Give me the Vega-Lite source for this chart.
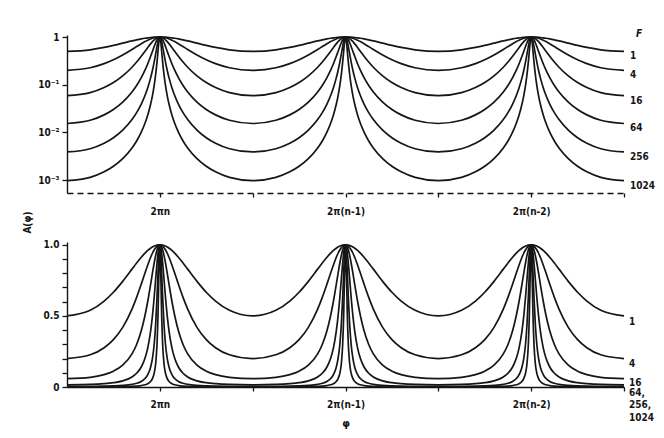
{
  "$schema": "https://vega.github.io/schema/vega-lite/v6.json",
  "background": "white",
  "padding": {"left": 22, "top": 29, "right": 5, "bottom": 5},
  "bounds": "flush",
  "spacing": 49,
  "config": {
    "font": "DejaVu Sans Condensed, DejaVu Sans, sans-serif",
    "view": {"stroke": null},
    "axis": {
      "grid": false,
      "domainColor": "#141414",
      "tickColor": "#141414",
      "labelColor": "#141414",
      "titleColor": "#141414",
      "labelFont": "DejaVu Sans Condensed, DejaVu Sans, sans-serif",
      "titleFont": "DejaVu Sans Condensed, DejaVu Sans, sans-serif",
      "labelFontWeight": "bold",
      "labelFontSize": 10,
      "labelOverlap": false,
      "domainWidth": 1.4,
      "tickWidth": 1.3
    }
  },
  "datasets": {
    "curves": [
      {"phi":-1,"F":"1","A":0.5},{"phi":-0.75,"F":"1","A":0.5395},{"phi":-0.6,"F":"1","A":0.60441},{"phi":-0.5,"F":"1","A":0.66667},{"phi":-0.4,"F":"1","A":0.74322},{"phi":-0.3,"F":"1","A":0.82911},{"phi":-0.25,"F":"1","A":0.87226},{"phi":-0.2,"F":"1","A":0.91283},{"phi":-0.16,"F":"1","A":0.94176},{"phi":-0.13,"F":"1","A":0.9605},{"phi":-0.1,"F":"1","A":0.97611},{"phi":-0.08,"F":"1","A":0.98454},{"phi":-0.06,"F":"1","A":0.99122},{"phi":0,"F":"1","A":1},
      {"phi":0.06,"F":"1","A":0.99122},{"phi":0.08,"F":"1","A":0.98454},{"phi":0.1,"F":"1","A":0.97611},{"phi":0.13,"F":"1","A":0.9605},{"phi":0.16,"F":"1","A":0.94176},{"phi":0.2,"F":"1","A":0.91283},{"phi":0.25,"F":"1","A":0.87226},{"phi":0.3,"F":"1","A":0.82911},{"phi":0.4,"F":"1","A":0.74322},{"phi":0.5,"F":"1","A":0.66667},{"phi":0.6,"F":"1","A":0.60441},{"phi":0.75,"F":"1","A":0.5395},{"phi":1,"F":"1","A":0.5},
      {"phi":1.25,"F":"1","A":0.5395},{"phi":1.4,"F":"1","A":0.60441},{"phi":1.5,"F":"1","A":0.66667},{"phi":1.6,"F":"1","A":0.74322},{"phi":1.7,"F":"1","A":0.82911},{"phi":1.75,"F":"1","A":0.87226},{"phi":1.8,"F":"1","A":0.91283},{"phi":1.84,"F":"1","A":0.94176},{"phi":1.87,"F":"1","A":0.9605},{"phi":1.9,"F":"1","A":0.97611},{"phi":1.92,"F":"1","A":0.98454},{"phi":1.94,"F":"1","A":0.99122},{"phi":2,"F":"1","A":1},
      {"phi":2.06,"F":"1","A":0.99122},{"phi":2.08,"F":"1","A":0.98454},{"phi":2.1,"F":"1","A":0.97611},{"phi":2.13,"F":"1","A":0.9605},{"phi":2.16,"F":"1","A":0.94176},{"phi":2.2,"F":"1","A":0.91283},{"phi":2.25,"F":"1","A":0.87226},{"phi":2.3,"F":"1","A":0.82911},{"phi":2.4,"F":"1","A":0.74322},{"phi":2.5,"F":"1","A":0.66667},{"phi":2.6,"F":"1","A":0.60441},{"phi":2.75,"F":"1","A":0.5395},{"phi":3,"F":"1","A":0.5},
      {"phi":3.25,"F":"1","A":0.5395},{"phi":3.4,"F":"1","A":0.60441},{"phi":3.5,"F":"1","A":0.66667},{"phi":3.6,"F":"1","A":0.74322},{"phi":3.7,"F":"1","A":0.82911},{"phi":3.75,"F":"1","A":0.87226},{"phi":3.8,"F":"1","A":0.91283},{"phi":3.84,"F":"1","A":0.94176},{"phi":3.87,"F":"1","A":0.9605},{"phi":3.9,"F":"1","A":0.97611},{"phi":3.92,"F":"1","A":0.98454},{"phi":3.94,"F":"1","A":0.99122},{"phi":4,"F":"1","A":1},
      {"phi":4.06,"F":"1","A":0.99122},{"phi":4.08,"F":"1","A":0.98454},{"phi":4.1,"F":"1","A":0.97611},{"phi":4.13,"F":"1","A":0.9605},{"phi":4.16,"F":"1","A":0.94176},{"phi":4.2,"F":"1","A":0.91283},{"phi":4.25,"F":"1","A":0.87226},{"phi":4.3,"F":"1","A":0.82911},{"phi":4.4,"F":"1","A":0.74322},{"phi":4.5,"F":"1","A":0.66667},{"phi":4.6,"F":"1","A":0.60441},{"phi":4.75,"F":"1","A":0.5395},{"phi":5,"F":"1","A":0.5},

      {"phi":-1,"F":"4","A":0.2},{"phi":-0.75,"F":"4","A":0.22654},{"phi":-0.6,"F":"4","A":0.27639},{"phi":-0.5,"F":"4","A":0.33333},{"phi":-0.4,"F":"4","A":0.41982},{"phi":-0.3,"F":"4","A":0.54812},{"phi":-0.25,"F":"4","A":0.6306},{"phi":-0.2,"F":"4","A":0.72361},{"phi":-0.16,"F":"4","A":0.80167},{"phi":-0.13,"F":"4","A":0.85874},{"phi":-0.1,"F":"4","A":0.91084},{"phi":-0.08,"F":"4","A":0.94088},{"phi":-0.06,"F":"4","A":0.96579},{"phi":0,"F":"4","A":1},
      {"phi":0.06,"F":"4","A":0.96579},{"phi":0.08,"F":"4","A":0.94088},{"phi":0.1,"F":"4","A":0.91084},{"phi":0.13,"F":"4","A":0.85874},{"phi":0.16,"F":"4","A":0.80167},{"phi":0.2,"F":"4","A":0.72361},{"phi":0.25,"F":"4","A":0.6306},{"phi":0.3,"F":"4","A":0.54812},{"phi":0.4,"F":"4","A":0.41982},{"phi":0.5,"F":"4","A":0.33333},{"phi":0.6,"F":"4","A":0.27639},{"phi":0.75,"F":"4","A":0.22654},{"phi":1,"F":"4","A":0.2},
      {"phi":1.25,"F":"4","A":0.22654},{"phi":1.4,"F":"4","A":0.27639},{"phi":1.5,"F":"4","A":0.33333},{"phi":1.6,"F":"4","A":0.41982},{"phi":1.7,"F":"4","A":0.54812},{"phi":1.75,"F":"4","A":0.6306},{"phi":1.8,"F":"4","A":0.72361},{"phi":1.84,"F":"4","A":0.80167},{"phi":1.87,"F":"4","A":0.85874},{"phi":1.9,"F":"4","A":0.91084},{"phi":1.92,"F":"4","A":0.94088},{"phi":1.94,"F":"4","A":0.96579},{"phi":2,"F":"4","A":1},
      {"phi":2.06,"F":"4","A":0.96579},{"phi":2.08,"F":"4","A":0.94088},{"phi":2.1,"F":"4","A":0.91084},{"phi":2.13,"F":"4","A":0.85874},{"phi":2.16,"F":"4","A":0.80167},{"phi":2.2,"F":"4","A":0.72361},{"phi":2.25,"F":"4","A":0.6306},{"phi":2.3,"F":"4","A":0.54812},{"phi":2.4,"F":"4","A":0.41982},{"phi":2.5,"F":"4","A":0.33333},{"phi":2.6,"F":"4","A":0.27639},{"phi":2.75,"F":"4","A":0.22654},{"phi":3,"F":"4","A":0.2},
      {"phi":3.25,"F":"4","A":0.22654},{"phi":3.4,"F":"4","A":0.27639},{"phi":3.5,"F":"4","A":0.33333},{"phi":3.6,"F":"4","A":0.41982},{"phi":3.7,"F":"4","A":0.54812},{"phi":3.75,"F":"4","A":0.6306},{"phi":3.8,"F":"4","A":0.72361},{"phi":3.84,"F":"4","A":0.80167},{"phi":3.87,"F":"4","A":0.85874},{"phi":3.9,"F":"4","A":0.91084},{"phi":3.92,"F":"4","A":0.94088},{"phi":3.94,"F":"4","A":0.96579},{"phi":4,"F":"4","A":1},
      {"phi":4.06,"F":"4","A":0.96579},{"phi":4.08,"F":"4","A":0.94088},{"phi":4.1,"F":"4","A":0.91084},{"phi":4.13,"F":"4","A":0.85874},{"phi":4.16,"F":"4","A":0.80167},{"phi":4.2,"F":"4","A":0.72361},{"phi":4.25,"F":"4","A":0.6306},{"phi":4.3,"F":"4","A":0.54812},{"phi":4.4,"F":"4","A":0.41982},{"phi":4.5,"F":"4","A":0.33333},{"phi":4.6,"F":"4","A":0.27639},{"phi":4.75,"F":"4","A":0.22654},{"phi":5,"F":"4","A":0.2},

      {"phi":-1,"F":"16","A":0.05882},{"phi":-0.75,"F":"16","A":0.06823},{"phi":-0.6,"F":"16","A":0.08717},{"phi":-0.5,"F":"16","A":0.11111},{"phi":-0.4,"F":"16","A":0.15319},{"phi":-0.3,"F":"16","A":0.23269},{"phi":-0.25,"F":"16","A":0.29912},{"phi":-0.2,"F":"16","A":0.39559},{"phi":-0.16,"F":"16","A":0.50262},{"phi":-0.13,"F":"16","A":0.60315},{"phi":-0.1,"F":"16","A":0.71862},{"phi":-0.08,"F":"16","A":0.79915},{"phi":-0.06,"F":"16","A":0.87589},{"phi":-0.045,"F":"16","A":0.92609},{"phi":-0.03,"F":"16","A":0.96571},{"phi":-0.02,"F":"16","A":0.98446},{"phi":-0.01,"F":"16","A":0.99607},{"phi":0,"F":"16","A":1},
      {"phi":0.01,"F":"16","A":0.99607},{"phi":0.02,"F":"16","A":0.98446},{"phi":0.03,"F":"16","A":0.96571},{"phi":0.045,"F":"16","A":0.92609},{"phi":0.06,"F":"16","A":0.87589},{"phi":0.08,"F":"16","A":0.79915},{"phi":0.1,"F":"16","A":0.71862},{"phi":0.13,"F":"16","A":0.60315},{"phi":0.16,"F":"16","A":0.50262},{"phi":0.2,"F":"16","A":0.39559},{"phi":0.25,"F":"16","A":0.29912},{"phi":0.3,"F":"16","A":0.23269},{"phi":0.4,"F":"16","A":0.15319},{"phi":0.5,"F":"16","A":0.11111},{"phi":0.6,"F":"16","A":0.08717},{"phi":0.75,"F":"16","A":0.06823},{"phi":1,"F":"16","A":0.05882},
      {"phi":1.25,"F":"16","A":0.06823},{"phi":1.4,"F":"16","A":0.08717},{"phi":1.5,"F":"16","A":0.11111},{"phi":1.6,"F":"16","A":0.15319},{"phi":1.7,"F":"16","A":0.23269},{"phi":1.75,"F":"16","A":0.29912},{"phi":1.8,"F":"16","A":0.39559},{"phi":1.84,"F":"16","A":0.50262},{"phi":1.87,"F":"16","A":0.60315},{"phi":1.9,"F":"16","A":0.71862},{"phi":1.92,"F":"16","A":0.79915},{"phi":1.94,"F":"16","A":0.87589},{"phi":1.955,"F":"16","A":0.92609},{"phi":1.97,"F":"16","A":0.96571},{"phi":1.98,"F":"16","A":0.98446},{"phi":1.99,"F":"16","A":0.99607},{"phi":2,"F":"16","A":1},
      {"phi":2.01,"F":"16","A":0.99607},{"phi":2.02,"F":"16","A":0.98446},{"phi":2.03,"F":"16","A":0.96571},{"phi":2.045,"F":"16","A":0.92609},{"phi":2.06,"F":"16","A":0.87589},{"phi":2.08,"F":"16","A":0.79915},{"phi":2.1,"F":"16","A":0.71862},{"phi":2.13,"F":"16","A":0.60315},{"phi":2.16,"F":"16","A":0.50262},{"phi":2.2,"F":"16","A":0.39559},{"phi":2.25,"F":"16","A":0.29912},{"phi":2.3,"F":"16","A":0.23269},{"phi":2.4,"F":"16","A":0.15319},{"phi":2.5,"F":"16","A":0.11111},{"phi":2.6,"F":"16","A":0.08717},{"phi":2.75,"F":"16","A":0.06823},{"phi":3,"F":"16","A":0.05882},
      {"phi":3.25,"F":"16","A":0.06823},{"phi":3.4,"F":"16","A":0.08717},{"phi":3.5,"F":"16","A":0.11111},{"phi":3.6,"F":"16","A":0.15319},{"phi":3.7,"F":"16","A":0.23269},{"phi":3.75,"F":"16","A":0.29912},{"phi":3.8,"F":"16","A":0.39559},{"phi":3.84,"F":"16","A":0.50262},{"phi":3.87,"F":"16","A":0.60315},{"phi":3.9,"F":"16","A":0.71862},{"phi":3.92,"F":"16","A":0.79915},{"phi":3.94,"F":"16","A":0.87589},{"phi":3.955,"F":"16","A":0.92609},{"phi":3.97,"F":"16","A":0.96571},{"phi":3.98,"F":"16","A":0.98446},{"phi":3.99,"F":"16","A":0.99607},{"phi":4,"F":"16","A":1},
      {"phi":4.01,"F":"16","A":0.99607},{"phi":4.02,"F":"16","A":0.98446},{"phi":4.03,"F":"16","A":0.96571},{"phi":4.045,"F":"16","A":0.92609},{"phi":4.06,"F":"16","A":0.87589},{"phi":4.08,"F":"16","A":0.79915},{"phi":4.1,"F":"16","A":0.71862},{"phi":4.13,"F":"16","A":0.60315},{"phi":4.16,"F":"16","A":0.50262},{"phi":4.2,"F":"16","A":0.39559},{"phi":4.25,"F":"16","A":0.29912},{"phi":4.3,"F":"16","A":0.23269},{"phi":4.4,"F":"16","A":0.15319},{"phi":4.5,"F":"16","A":0.11111},{"phi":4.6,"F":"16","A":0.08717},{"phi":4.75,"F":"16","A":0.06823},{"phi":5,"F":"16","A":0.05882},

      {"phi":-1,"F":"64","A":0.01538},{"phi":-0.75,"F":"64","A":0.01798},{"phi":-0.6,"F":"64","A":0.02332},{"phi":-0.5,"F":"64","A":0.0303},{"phi":-0.4,"F":"64","A":0.04327},{"phi":-0.3,"F":"64","A":0.07047},{"phi":-0.25,"F":"64","A":0.09641},{"phi":-0.2,"F":"64","A":0.14062},{"phi":-0.16,"F":"64","A":0.20169},{"phi":-0.13,"F":"64","A":0.27534},{"phi":-0.1,"F":"64","A":0.38968},{"phi":-0.08,"F":"64","A":0.49868},{"phi":-0.06,"F":"64","A":0.63824},{"phi":-0.045,"F":"64","A":0.75801},{"phi":-0.03,"F":"64","A":0.87564},{"phi":-0.02,"F":"64","A":0.94061},{"phi":-0.01,"F":"64","A":0.98446},{"phi":0,"F":"64","A":1},
      {"phi":0.01,"F":"64","A":0.98446},{"phi":0.02,"F":"64","A":0.94061},{"phi":0.03,"F":"64","A":0.87564},{"phi":0.045,"F":"64","A":0.75801},{"phi":0.06,"F":"64","A":0.63824},{"phi":0.08,"F":"64","A":0.49868},{"phi":0.1,"F":"64","A":0.38968},{"phi":0.13,"F":"64","A":0.27534},{"phi":0.16,"F":"64","A":0.20169},{"phi":0.2,"F":"64","A":0.14062},{"phi":0.25,"F":"64","A":0.09641},{"phi":0.3,"F":"64","A":0.07047},{"phi":0.4,"F":"64","A":0.04327},{"phi":0.5,"F":"64","A":0.0303},{"phi":0.6,"F":"64","A":0.02332},{"phi":0.75,"F":"64","A":0.01798},{"phi":1,"F":"64","A":0.01538},
      {"phi":1.25,"F":"64","A":0.01798},{"phi":1.4,"F":"64","A":0.02332},{"phi":1.5,"F":"64","A":0.0303},{"phi":1.6,"F":"64","A":0.04327},{"phi":1.7,"F":"64","A":0.07047},{"phi":1.75,"F":"64","A":0.09641},{"phi":1.8,"F":"64","A":0.14062},{"phi":1.84,"F":"64","A":0.20169},{"phi":1.87,"F":"64","A":0.27534},{"phi":1.9,"F":"64","A":0.38968},{"phi":1.92,"F":"64","A":0.49868},{"phi":1.94,"F":"64","A":0.63824},{"phi":1.955,"F":"64","A":0.75801},{"phi":1.97,"F":"64","A":0.87564},{"phi":1.98,"F":"64","A":0.94061},{"phi":1.99,"F":"64","A":0.98446},{"phi":2,"F":"64","A":1},
      {"phi":2.01,"F":"64","A":0.98446},{"phi":2.02,"F":"64","A":0.94061},{"phi":2.03,"F":"64","A":0.87564},{"phi":2.045,"F":"64","A":0.75801},{"phi":2.06,"F":"64","A":0.63824},{"phi":2.08,"F":"64","A":0.49868},{"phi":2.1,"F":"64","A":0.38968},{"phi":2.13,"F":"64","A":0.27534},{"phi":2.16,"F":"64","A":0.20169},{"phi":2.2,"F":"64","A":0.14062},{"phi":2.25,"F":"64","A":0.09641},{"phi":2.3,"F":"64","A":0.07047},{"phi":2.4,"F":"64","A":0.04327},{"phi":2.5,"F":"64","A":0.0303},{"phi":2.6,"F":"64","A":0.02332},{"phi":2.75,"F":"64","A":0.01798},{"phi":3,"F":"64","A":0.01538},
      {"phi":3.25,"F":"64","A":0.01798},{"phi":3.4,"F":"64","A":0.02332},{"phi":3.5,"F":"64","A":0.0303},{"phi":3.6,"F":"64","A":0.04327},{"phi":3.7,"F":"64","A":0.07047},{"phi":3.75,"F":"64","A":0.09641},{"phi":3.8,"F":"64","A":0.14062},{"phi":3.84,"F":"64","A":0.20169},{"phi":3.87,"F":"64","A":0.27534},{"phi":3.9,"F":"64","A":0.38968},{"phi":3.92,"F":"64","A":0.49868},{"phi":3.94,"F":"64","A":0.63824},{"phi":3.955,"F":"64","A":0.75801},{"phi":3.97,"F":"64","A":0.87564},{"phi":3.98,"F":"64","A":0.94061},{"phi":3.99,"F":"64","A":0.98446},{"phi":4,"F":"64","A":1},
      {"phi":4.01,"F":"64","A":0.98446},{"phi":4.02,"F":"64","A":0.94061},{"phi":4.03,"F":"64","A":0.87564},{"phi":4.045,"F":"64","A":0.75801},{"phi":4.06,"F":"64","A":0.63824},{"phi":4.08,"F":"64","A":0.49868},{"phi":4.1,"F":"64","A":0.38968},{"phi":4.13,"F":"64","A":0.27534},{"phi":4.16,"F":"64","A":0.20169},{"phi":4.2,"F":"64","A":0.14062},{"phi":4.25,"F":"64","A":0.09641},{"phi":4.3,"F":"64","A":0.07047},{"phi":4.4,"F":"64","A":0.04327},{"phi":4.5,"F":"64","A":0.0303},{"phi":4.6,"F":"64","A":0.02332},{"phi":4.75,"F":"64","A":0.01798},{"phi":5,"F":"64","A":0.01538},

      {"phi":-1,"F":"256","A":0.003891},{"phi":-0.75,"F":"256","A":0.004556},{"phi":-0.6,"F":"256","A":0.005933},{"phi":-0.5,"F":"256","A":0.007752},{"phi":-0.4,"F":"256","A":0.01118},{"phi":-0.3,"F":"256","A":0.0186},{"phi":-0.25,"F":"256","A":0.02598},{"phi":-0.2,"F":"256","A":0.0393},{"phi":-0.16,"F":"256","A":0.05941},{"phi":-0.13,"F":"256","A":0.08675},{"phi":-0.1,"F":"256","A":0.13765},{"phi":-0.08,"F":"256","A":0.19915},{"phi":-0.06,"F":"256","A":0.30607},{"phi":-0.045,"F":"256","A":0.43918},{"phi":-0.03,"F":"256","A":0.63773},{"phi":-0.02,"F":"256","A":0.79835},{"phi":-0.01,"F":"256","A":0.94059},{"phi":0,"F":"256","A":1},
      {"phi":0.01,"F":"256","A":0.94059},{"phi":0.02,"F":"256","A":0.79835},{"phi":0.03,"F":"256","A":0.63773},{"phi":0.045,"F":"256","A":0.43918},{"phi":0.06,"F":"256","A":0.30607},{"phi":0.08,"F":"256","A":0.19915},{"phi":0.1,"F":"256","A":0.13765},{"phi":0.13,"F":"256","A":0.08675},{"phi":0.16,"F":"256","A":0.05941},{"phi":0.2,"F":"256","A":0.0393},{"phi":0.25,"F":"256","A":0.02598},{"phi":0.3,"F":"256","A":0.0186},{"phi":0.4,"F":"256","A":0.01118},{"phi":0.5,"F":"256","A":0.007752},{"phi":0.6,"F":"256","A":0.005933},{"phi":0.75,"F":"256","A":0.004556},{"phi":1,"F":"256","A":0.003891},
      {"phi":1.25,"F":"256","A":0.004556},{"phi":1.4,"F":"256","A":0.005933},{"phi":1.5,"F":"256","A":0.007752},{"phi":1.6,"F":"256","A":0.01118},{"phi":1.7,"F":"256","A":0.0186},{"phi":1.75,"F":"256","A":0.02598},{"phi":1.8,"F":"256","A":0.0393},{"phi":1.84,"F":"256","A":0.05941},{"phi":1.87,"F":"256","A":0.08675},{"phi":1.9,"F":"256","A":0.13765},{"phi":1.92,"F":"256","A":0.19915},{"phi":1.94,"F":"256","A":0.30607},{"phi":1.955,"F":"256","A":0.43918},{"phi":1.97,"F":"256","A":0.63773},{"phi":1.98,"F":"256","A":0.79835},{"phi":1.99,"F":"256","A":0.94059},{"phi":2,"F":"256","A":1},
      {"phi":2.01,"F":"256","A":0.94059},{"phi":2.02,"F":"256","A":0.79835},{"phi":2.03,"F":"256","A":0.63773},{"phi":2.045,"F":"256","A":0.43918},{"phi":2.06,"F":"256","A":0.30607},{"phi":2.08,"F":"256","A":0.19915},{"phi":2.1,"F":"256","A":0.13765},{"phi":2.13,"F":"256","A":0.08675},{"phi":2.16,"F":"256","A":0.05941},{"phi":2.2,"F":"256","A":0.0393},{"phi":2.25,"F":"256","A":0.02598},{"phi":2.3,"F":"256","A":0.0186},{"phi":2.4,"F":"256","A":0.01118},{"phi":2.5,"F":"256","A":0.007752},{"phi":2.6,"F":"256","A":0.005933},{"phi":2.75,"F":"256","A":0.004556},{"phi":3,"F":"256","A":0.003891},
      {"phi":3.25,"F":"256","A":0.004556},{"phi":3.4,"F":"256","A":0.005933},{"phi":3.5,"F":"256","A":0.007752},{"phi":3.6,"F":"256","A":0.01118},{"phi":3.7,"F":"256","A":0.0186},{"phi":3.75,"F":"256","A":0.02598},{"phi":3.8,"F":"256","A":0.0393},{"phi":3.84,"F":"256","A":0.05941},{"phi":3.87,"F":"256","A":0.08675},{"phi":3.9,"F":"256","A":0.13765},{"phi":3.92,"F":"256","A":0.19915},{"phi":3.94,"F":"256","A":0.30607},{"phi":3.955,"F":"256","A":0.43918},{"phi":3.97,"F":"256","A":0.63773},{"phi":3.98,"F":"256","A":0.79835},{"phi":3.99,"F":"256","A":0.94059},{"phi":4,"F":"256","A":1},
      {"phi":4.01,"F":"256","A":0.94059},{"phi":4.02,"F":"256","A":0.79835},{"phi":4.03,"F":"256","A":0.63773},{"phi":4.045,"F":"256","A":0.43918},{"phi":4.06,"F":"256","A":0.30607},{"phi":4.08,"F":"256","A":0.19915},{"phi":4.1,"F":"256","A":0.13765},{"phi":4.13,"F":"256","A":0.08675},{"phi":4.16,"F":"256","A":0.05941},{"phi":4.2,"F":"256","A":0.0393},{"phi":4.25,"F":"256","A":0.02598},{"phi":4.3,"F":"256","A":0.0186},{"phi":4.4,"F":"256","A":0.01118},{"phi":4.5,"F":"256","A":0.007752},{"phi":4.6,"F":"256","A":0.005933},{"phi":4.75,"F":"256","A":0.004556},{"phi":5,"F":"256","A":0.003891},

      {"phi":-1,"F":"1024","A":0.000976},{"phi":-0.75,"F":"1024","A":0.001143},{"phi":-0.6,"F":"1024","A":0.00149},{"phi":-0.5,"F":"1024","A":0.001949},{"phi":-0.4,"F":"1024","A":0.002819},{"phi":-0.3,"F":"1024","A":0.004716},{"phi":-0.25,"F":"1024","A":0.006624},{"phi":-0.2,"F":"1024","A":0.01012},{"phi":-0.16,"F":"1024","A":0.01554},{"phi":-0.13,"F":"1024","A":0.0232},{"phi":-0.1,"F":"1024","A":0.03837},{"phi":-0.08,"F":"1024","A":0.05853},{"phi":-0.06,"F":"1024","A":0.09932},{"phi":-0.045,"F":"1024","A":0.16372},{"phi":-0.03,"F":"1024","A":0.3056},{"phi":-0.02,"F":"1024","A":0.49743},{"phi":-0.01,"F":"1024","A":0.79832},{"phi":0,"F":"1024","A":1},
      {"phi":0.01,"F":"1024","A":0.79832},{"phi":0.02,"F":"1024","A":0.49743},{"phi":0.03,"F":"1024","A":0.3056},{"phi":0.045,"F":"1024","A":0.16372},{"phi":0.06,"F":"1024","A":0.09932},{"phi":0.08,"F":"1024","A":0.05853},{"phi":0.1,"F":"1024","A":0.03837},{"phi":0.13,"F":"1024","A":0.0232},{"phi":0.16,"F":"1024","A":0.01554},{"phi":0.2,"F":"1024","A":0.01012},{"phi":0.25,"F":"1024","A":0.006624},{"phi":0.3,"F":"1024","A":0.004716},{"phi":0.4,"F":"1024","A":0.002819},{"phi":0.5,"F":"1024","A":0.001949},{"phi":0.6,"F":"1024","A":0.00149},{"phi":0.75,"F":"1024","A":0.001143},{"phi":1,"F":"1024","A":0.000976},
      {"phi":1.25,"F":"1024","A":0.001143},{"phi":1.4,"F":"1024","A":0.00149},{"phi":1.5,"F":"1024","A":0.001949},{"phi":1.6,"F":"1024","A":0.002819},{"phi":1.7,"F":"1024","A":0.004716},{"phi":1.75,"F":"1024","A":0.006624},{"phi":1.8,"F":"1024","A":0.01012},{"phi":1.84,"F":"1024","A":0.01554},{"phi":1.87,"F":"1024","A":0.0232},{"phi":1.9,"F":"1024","A":0.03837},{"phi":1.92,"F":"1024","A":0.05853},{"phi":1.94,"F":"1024","A":0.09932},{"phi":1.955,"F":"1024","A":0.16372},{"phi":1.97,"F":"1024","A":0.3056},{"phi":1.98,"F":"1024","A":0.49743},{"phi":1.99,"F":"1024","A":0.79832},{"phi":2,"F":"1024","A":1},
      {"phi":2.01,"F":"1024","A":0.79832},{"phi":2.02,"F":"1024","A":0.49743},{"phi":2.03,"F":"1024","A":0.3056},{"phi":2.045,"F":"1024","A":0.16372},{"phi":2.06,"F":"1024","A":0.09932},{"phi":2.08,"F":"1024","A":0.05853},{"phi":2.1,"F":"1024","A":0.03837},{"phi":2.13,"F":"1024","A":0.0232},{"phi":2.16,"F":"1024","A":0.01554},{"phi":2.2,"F":"1024","A":0.01012},{"phi":2.25,"F":"1024","A":0.006624},{"phi":2.3,"F":"1024","A":0.004716},{"phi":2.4,"F":"1024","A":0.002819},{"phi":2.5,"F":"1024","A":0.001949},{"phi":2.6,"F":"1024","A":0.00149},{"phi":2.75,"F":"1024","A":0.001143},{"phi":3,"F":"1024","A":0.000976},
      {"phi":3.25,"F":"1024","A":0.001143},{"phi":3.4,"F":"1024","A":0.00149},{"phi":3.5,"F":"1024","A":0.001949},{"phi":3.6,"F":"1024","A":0.002819},{"phi":3.7,"F":"1024","A":0.004716},{"phi":3.75,"F":"1024","A":0.006624},{"phi":3.8,"F":"1024","A":0.01012},{"phi":3.84,"F":"1024","A":0.01554},{"phi":3.87,"F":"1024","A":0.0232},{"phi":3.9,"F":"1024","A":0.03837},{"phi":3.92,"F":"1024","A":0.05853},{"phi":3.94,"F":"1024","A":0.09932},{"phi":3.955,"F":"1024","A":0.16372},{"phi":3.97,"F":"1024","A":0.3056},{"phi":3.98,"F":"1024","A":0.49743},{"phi":3.99,"F":"1024","A":0.79832},{"phi":4,"F":"1024","A":1},
      {"phi":4.01,"F":"1024","A":0.79832},{"phi":4.02,"F":"1024","A":0.49743},{"phi":4.03,"F":"1024","A":0.3056},{"phi":4.045,"F":"1024","A":0.16372},{"phi":4.06,"F":"1024","A":0.09932},{"phi":4.08,"F":"1024","A":0.05853},{"phi":4.1,"F":"1024","A":0.03837},{"phi":4.13,"F":"1024","A":0.0232},{"phi":4.16,"F":"1024","A":0.01554},{"phi":4.2,"F":"1024","A":0.01012},{"phi":4.25,"F":"1024","A":0.006624},{"phi":4.3,"F":"1024","A":0.004716},{"phi":4.4,"F":"1024","A":0.002819},{"phi":4.5,"F":"1024","A":0.001949},{"phi":4.6,"F":"1024","A":0.00149},{"phi":4.75,"F":"1024","A":0.001143},{"phi":5,"F":"1024","A":0.000976}
    ],
    "linearLabels": [
      {"label": "1", "phi": 5, "level": 0.458},
      {"label": "4", "phi": 5, "level": 0.162},
      {"label": "16", "phi": 5, "level": 0.028},
      {"label": "64,", "phi": 5, "level": -0.042},
      {"label": "256,", "phi": 5, "level": -0.127},
      {"label": "1024", "phi": 5, "level": -0.218}
    ],
    "header": [{"label": "F", "phi": 5, "level": 1.15}]
  },
  "vconcat": [
    {
      "width": 557,
      "height": 158,
      "resolve": {"axis": {"x": "independent", "y": "independent"}},
      "layer": [
        {
          "data": {"name": "curves"},
          "mark": {"type": "line", "interpolate": "monotone", "color": "#161616", "strokeWidth": 1.7, "clip": true},
          "encoding": {
            "x": {
              "field": "phi", "type": "quantitative",
              "scale": {"domain": [-1, 5], "nice": false, "zero": false},
              "axis": {
                "title": null,
                "values": [0, 1, 2, 3, 4, 5],
                "labelExpr": "datum.value == 0 ? '2πn' : datum.value == 2 ? '2π(n-1)' : datum.value == 4 ? '2π(n-2)' : ''",
                "domainDash": [6, 4],
                "tickSize": 4,
                "labelPadding": 9,
                "labelFlush": false
              }
            },
            "y": {
              "field": "A", "type": "quantitative",
              "scale": {"type": "log", "domain": [0.000537, 1.102], "nice": false},
              "axis": {
                "title": null,
                "values": [0.001, 0.01, 0.1, 1],
                "labelExpr": "datum.value > 0.5 ? '1' : datum.value > 0.05 ? '10⁻¹' : datum.value > 0.005 ? '10⁻²' : '10⁻³'",
                "tickSize": 5,
                "labelPadding": 3
              }
            },
            "detail": {"field": "F"}
          }
        },
        {
          "data": {"name": "curves"},
          "transform": [{"filter": "datum.phi == 5"}],
          "mark": {"type": "text", "align": "left", "baseline": "middle", "dx": 6, "dy": 5, "fontSize": 10, "fontWeight": "bold", "color": "#161616"},
          "encoding": {
            "x": {"field": "phi", "type": "quantitative", "axis": null},
            "y": {"field": "A", "type": "quantitative", "axis": null},
            "text": {"field": "F"}
          }
        },
        {
          "data": {"name": "header"},
          "mark": {"type": "text", "align": "left", "baseline": "middle", "dx": 12, "fontSize": 10, "fontStyle": "italic", "fontWeight": "bold", "color": "#161616"},
          "encoding": {
            "x": {"field": "phi", "type": "quantitative", "axis": null},
            "y": {"field": "level", "type": "quantitative", "axis": null},
            "text": {"field": "label"}
          }
        }
      ]
    },
    {
      "width": 557,
      "height": 145,
      "resolve": {"axis": {"x": "independent", "y": "independent"}},
      "layer": [
        {
          "data": {"name": "curves"},
          "mark": {"type": "line", "interpolate": "monotone", "color": "#161616", "strokeWidth": 1.7, "clip": true},
          "encoding": {
            "x": {
              "field": "phi", "type": "quantitative",
              "scale": {"domain": [-1, 5], "nice": false, "zero": false},
              "axis": {
                "title": "φ",
                "titleFontSize": 11,
                "titleFontWeight": "bold",
                "titlePadding": 8,
                "values": [0, 1, 2, 3, 4, 5],
                "labelExpr": "datum.value == 0 ? '2πn' : datum.value == 2 ? '2π(n-1)' : datum.value == 4 ? '2π(n-2)' : ''",
                "tickSize": 4,
                "labelPadding": 8,
                "labelFlush": false
              }
            },
            "y": {
              "field": "A", "type": "quantitative",
              "scale": {"domain": [0, 1.02], "nice": false},
              "axis": {
                "title": "A(φ)",
                "titleFontSize": 10,
                "titleFontWeight": "bold",
                "titleAngle": 270,
                "titleAlign": "center",
                "titleBaseline": "middle",
                "titleX": -40,
                "titleY": -20,
                "values": [0, 0.1, 0.2, 0.3, 0.4, 0.5, 0.6, 0.7, 0.8, 0.9, 1],
                "labelExpr": "datum.value < 0.05 ? '0' : (datum.value > 0.45 && datum.value < 0.55) ? '0.5' : datum.value > 0.95 ? '1.0' : ''",
                "tickSize": 5,
                "labelPadding": 3
              }
            },
            "detail": {"field": "F"}
          }
        },
        {
          "data": {"name": "linearLabels"},
          "mark": {"type": "text", "align": "left", "baseline": "middle", "dx": 5, "fontSize": 10, "fontWeight": "bold", "color": "#161616"},
          "encoding": {
            "x": {"field": "phi", "type": "quantitative", "axis": null},
            "y": {"field": "level", "type": "quantitative", "axis": null},
            "text": {"field": "label"}
          }
        }
      ]
    }
  ]
}
